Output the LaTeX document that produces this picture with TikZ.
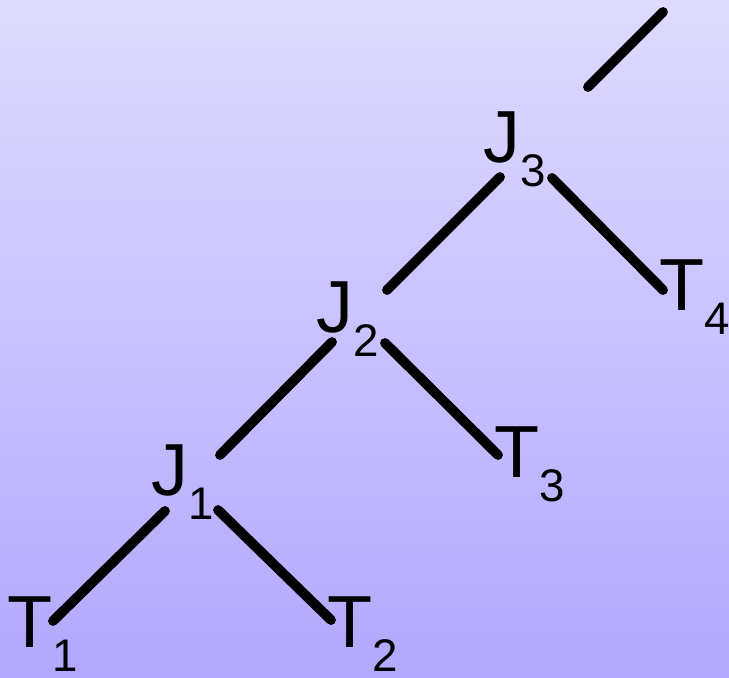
\documentclass[tikz,border=0pt]{standalone}
\usepackage{fontspec}
\setmainfont{Liberation Sans}
\definecolor{bgtop}{RGB}{222,219,255}
\definecolor{bgbot}{RGB}{178,168,254}
\newcommand{\sublbl}[2]{#1\raisebox{-13.7pt}{\fontsize{26}{26}\selectfont #2}}
\tikzset{
  lbl/.style={anchor=base west,inner sep=0pt,font=\fontsize{42}{42}\selectfont},
  edge/.style={line width=5.6pt,line cap=round}
}
\begin{document}
\begin{tikzpicture}[x=0.02cm,y=-0.02cm]
\useasboundingbox (0,0) rectangle (729,677);
\shade[top color=bgtop,bottom color=bgbot] (0,0) rectangle (729,677);

% labels
\node[lbl] (J3) at (483,162) {\sublbl{J}{3}};
\node[lbl] (J2) at (316,332) {\sublbl{J}{2}};
\node[lbl] (J1) at (151,495) {\sublbl{J}{1}};
\node[lbl] (T1) at (7,647) {\sublbl{T}{1}};
\node[lbl] (T2) at (327,647) {\sublbl{T}{2}};
\node[lbl] (T3) at (494,477) {\sublbl{T}{3}};
\node[lbl] (T4) at (659,310) {\sublbl{T}{4}};

% line ends
\coordinate (root) at (663,12);
\coordinate (J3-up) at (588,87);
\coordinate (J3-l) at (500,177);
\coordinate (J3-r) at (552,178);
\coordinate (J2-up) at (387,290);
\coordinate (J2-l) at (332,342);
\coordinate (J2-r) at (385,343);
\coordinate (J1-up) at (220,455);
\coordinate (J1-l) at (165,511);
\coordinate (J1-r) at (218,510);
\coordinate (T1-up) at (53,621);
\coordinate (T2-up) at (331,620);
\coordinate (T3-up) at (498,455);
\coordinate (T4-up) at (663,290);

\draw[edge] (J3-up) -- (root);
\draw[edge] (J3-l) -- (J2-up);
\draw[edge] (J3-r) -- (T4-up);
\draw[edge] (J2-l) -- (J1-up);
\draw[edge] (J2-r) -- (T3-up);
\draw[edge] (J1-l) -- (T1-up);
\draw[edge] (J1-r) -- (T2-up);
\end{tikzpicture}
\end{document}
